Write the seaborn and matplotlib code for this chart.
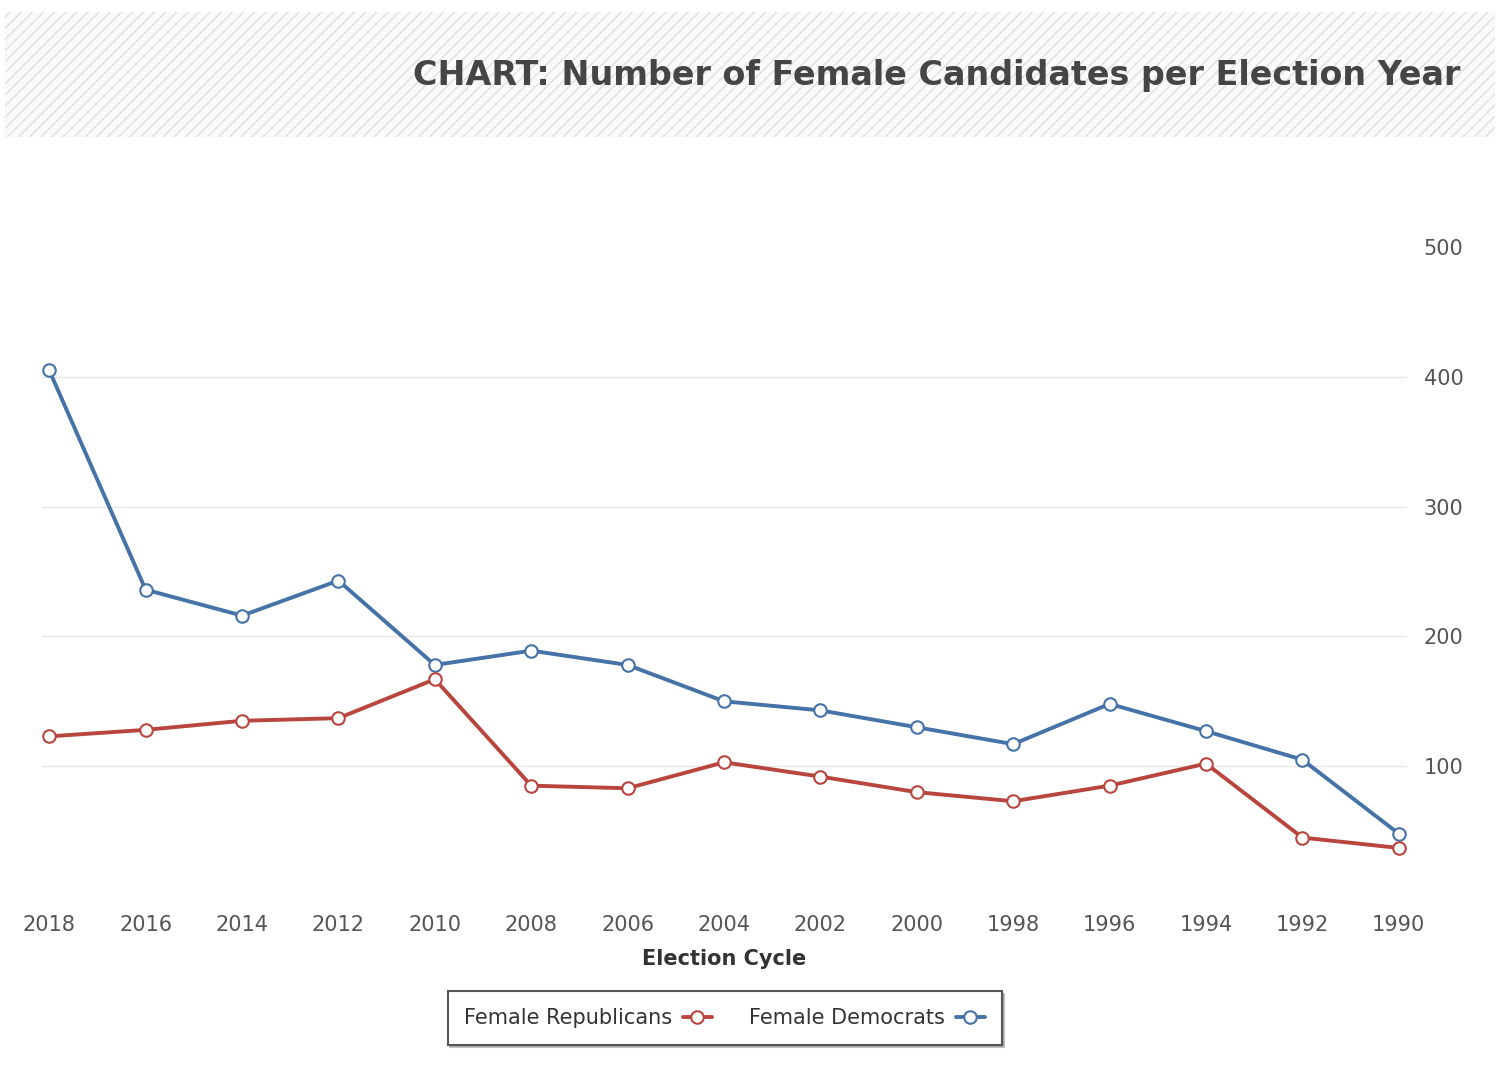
import matplotlib.pyplot as plt
import pandas as pd
import seaborn as sns
from matplotlib.lines import Line2D
from matplotlib.patches import Rectangle

years = [2018, 2016, 2014, 2012, 2010, 2008, 2006, 2004, 2002, 2000, 1998, 1996, 1994, 1992, 1990]
democrats = [405, 236, 216, 243, 178, 189, 178, 150, 143, 130, 117, 148, 127, 105, 48]
republicans = [123, 128, 135, 137, 167, 85, 83, 103, 92, 80, 73, 85, 102, 45, 37]
y_ticks = [100, 200, 300, 400, 500]

BLUE = "#4572A7"
RED = "#B8463F"

df = pd.DataFrame(
    [{"year": y, "count": v, "party": "Female Democrats"} for y, v in zip(years, democrats)]
    + [{"year": y, "count": v, "party": "Female Republicans"} for y, v in zip(years, republicans)]
)

sns.set_theme(style="white")
plt.rcParams["font.family"] = ["DejaVu Sans"]
plt.rcParams["hatch.linewidth"] = 1.0

fig = plt.figure(figsize=(15, 10.69), dpi=100)

# 제목 띠 (빗금 배경)
band = Rectangle((5 / 1500, 1 - 137 / 1069), 1490 / 1500, 125 / 1069,
                 transform=fig.transFigure, facecolor="#fafafa",
                 edgecolor="#e0e0e0", hatch="///", linewidth=0, zorder=0)
fig.patches.append(band)
fig.text(1460 / 1500, 1 - 76 / 1069, "CHART: Number of Female Candidates per Election Year",
         ha="right", va="center", fontsize=24, fontweight="bold", color="#454545")

ax = fig.add_axes([42 / 1500, 1 - 896 / 1069, (1407 - 42) / 1500, (896 - 247) / 1069])
sns.lineplot(data=df, x="year", y="count", hue="party",
             palette={"Female Democrats": BLUE, "Female Republicans": RED},
             marker="o", markersize=9, markerfacecolor="white",
             markeredgewidth=1.5, linewidth=2.8, legend=False, ax=ax, zorder=3)
for line in ax.lines:
    line.set_markeredgecolor(line.get_color())

ax.set_xlim(2018.15, 1989.83)
ax.set_ylim(0, 500)
ax.set_xticks(years)
ax.set_yticks(y_ticks)
ax.yaxis.tick_right()
ax.tick_params(axis="y", length=0, pad=12, labelsize=15, labelcolor="#555555")
ax.tick_params(axis="x", length=0, pad=14, labelsize=15, labelcolor="#555555")
ax.grid(axis="y", color="#e6e6e6", linewidth=1)
ax.yaxis.get_gridlines()[-1].set_visible(False)
for s in ax.spines.values():
    s.set_visible(False)
ax.set_ylabel("")
ax.set_xlabel("Election Cycle", fontsize=15, fontweight="bold", color="#333333", labelpad=10)

leg_handles = [
    Line2D([], [], color=c, marker="o", markersize=9, markerfacecolor="white",
           markeredgecolor=c, markeredgewidth=1.5, linewidth=2.8)
    for c in (RED, BLUE)
]
leg = fig.legend(leg_handles, ["Female Republicans", "Female Democrats"],
                 loc="center", bbox_to_anchor=(724.5 / 1500, 1 - 1018 / 1069),
                 ncol=2, fontsize=15, markerfirst=False, handlelength=1.4,
                 handletextpad=0.5, columnspacing=1.8, frameon=True, fancybox=False,
                 shadow={"color": "#999999", "alpha": 0.6}, borderpad=0.8)
leg.get_frame().set_edgecolor("#555555")
leg.get_frame().set_linewidth(1.5)
for t in leg.get_texts():
    t.set_color("#333333")

fig.savefig("out.png", dpi=100)
